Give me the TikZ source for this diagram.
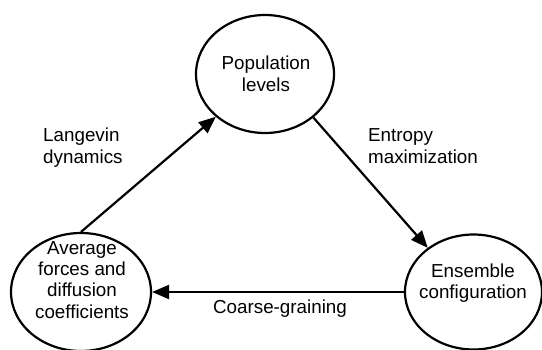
\documentclass[tikz,border=0pt]{standalone}
\usepackage{fontspec}
\setmainfont{Liberation Sans}
\usetikzlibrary{arrows.meta,shapes.geometric}
\begin{document}
\begin{tikzpicture}[x=1pt,y=1pt,
  state/.style={draw=black, line width=2.2pt, ellipse, inner sep=0pt},
  lbl/.style={font=\fontsize{18.8}{21.3}\selectfont, inner sep=0pt, text=black},
  conn/.style={draw=black, line width=2.2pt, -{Triangle[length=17pt,width=14pt]}}]
\useasboundingbox (0,0) rectangle (542,-349);
\fill[white] (0,0) rectangle (542,-349);
% ellipses
\node[state, minimum width=138pt, minimum height=118pt] (pop) at (265,-74) {};
\node[state, minimum width=140pt, minimum height=118pt] (avg) at (81,-292) {};
\node[state, minimum width=137pt, minimum height=115pt] (ens) at (473.5,-292) {};
% texts (base anchor = last line's baseline)
\node[lbl, align=center, anchor=base] (tpop) at (266,-91) {Population\\levels};
\node[lbl, align=center, anchor=base] (tavg) at (82,-318) {Average\\forces and\\diffusion\\coefficients};
\node[lbl, align=center, anchor=base] (tens) at (473,-298.5) {Ensemble\\configuration};
\node[lbl, align=left, anchor=base west] (llang) at (43,-163) {Langevin\\dynamics};
\node[lbl, align=left, anchor=base west] (lentr) at (368,-163) {Entropy\\maximization};
\node[lbl, anchor=base] (lcoarse) at (280,-313) {Coarse-graining};
% connectors
\draw[conn] (avg.north) -- (pop.221);
\draw[conn] (pop.-42) -- (ens.136);
\draw[conn] (ens.west) -- (avg.east);
\end{tikzpicture}
\end{document}
